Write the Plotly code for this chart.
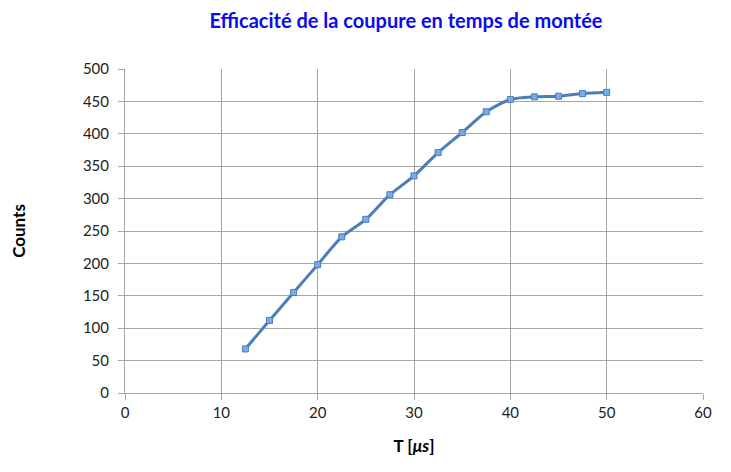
import plotly.graph_objects as go

T_us = [12.5, 15, 17.5, 20, 22.5, 25, 27.5, 30, 32.5, 35, 37.5, 40, 42.5, 45, 47.5, 50]
counts = [68, 112, 155, 198, 241, 268, 306, 335, 371, 402, 434, 453, 457, 458, 462, 464]

fig = go.Figure()
fig.add_trace(go.Scatter(
    x=T_us, y=counts, mode="lines+markers",
    line=dict(color="#4a7ebb", width=3, shape="spline", smoothing=0.7),
    marker=dict(symbol="square", size=6, color="#7aaae8",
                line=dict(color="#4a7ebb", width=1)),
    showlegend=False,
))

FONT = "Lato"
axis_common = dict(
    showgrid=True, gridcolor="#a6a6a6", gridwidth=1,
    showline=True, linecolor="#a6a6a6", linewidth=1,
    ticks="outside", ticklen=6, tickcolor="#a6a6a6",
    zeroline=False,
    tickfont=dict(family=FONT, size=15, color="#222222"),
)

fig.update_xaxes(range=[0, 60], dtick=10,
                 title=dict(text="<b>T [<i>μs</i>]</b>",
                            font=dict(family=FONT, size=17, color="black"),
                            standoff=20),
                 **axis_common)
fig.update_yaxes(range=[0, 500], dtick=50, ticklabelstandoff=6,
                 title=dict(text="<b>Counts</b>",
                            font=dict(family=FONT, size=17, color="black"),
                            standoff=52),
                 **axis_common)

# the page body keeps an 8px default margin; size the figure so the page is exactly 731x472
fig.update_layout(
    width=715, height=456,
    margin=dict(l=111, r=11, t=61, b=63),
    paper_bgcolor="white", plot_bgcolor="white",
    title=dict(text="<b>Efficacité de la coupure en temps de montée</b>",
               font=dict(family=FONT, size=20, color="#0a0aee"),
               x=(406 - 8) / 715, xanchor="center", y=1 - 13 / 456, yanchor="middle"),
)

fig.write_html("out.html")
